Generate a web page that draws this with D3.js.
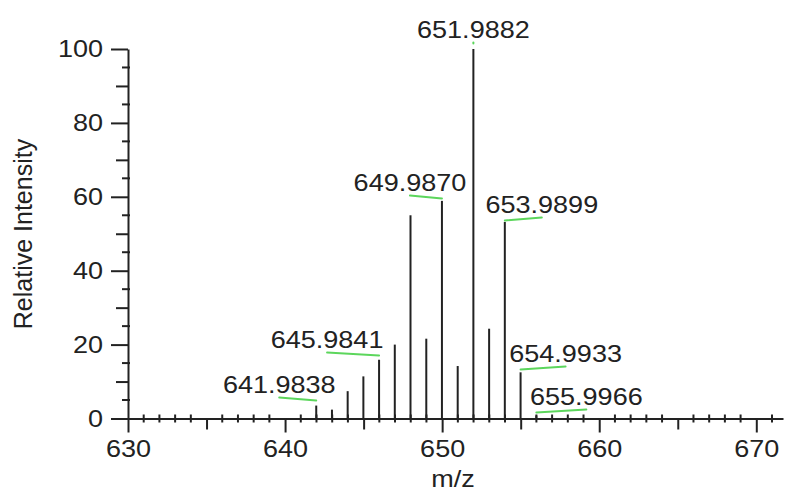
<!DOCTYPE html>
<html lang="en">
<head>
<meta charset="UTF-8">
<title>Mass spectrum</title>
<script src="https://cdn.jsdelivr.net/npm/d3@7"></script>
<style>
  body { margin: 0; background: #fff; }
  text { font-family: "Liberation Sans", Arial, Helvetica, sans-serif; fill: #222; }
</style>
</head>
<body>
<svg width="785" height="496"></svg>
<script>
// peak m/z values and relative intensities
var mzValues = [641.9838, 642.985, 643.985, 644.985, 645.9841, 646.985, 647.985, 648.99, 649.9870, 650.99, 651.9882, 652.99, 653.9899, 654.9933, 655.9966];
var intensities = [3.5, 2.4, 7.4, 11.4, 15.9, 20.0, 55.0, 21.6, 58.9, 14.2, 100, 24.3, 53.2, 12.5, 0.8];

// annotated peaks
var labelMz = [641.9838, 645.9841, 649.9870, 651.9882, 653.9899, 654.9933, 655.9966];
var labelText = ["641.9838", "645.9841", "649.9870", "651.9882", "653.9899", "654.9933", "655.9966"];

var xTicks = [630, 640, 650, 660, 670];
var yTicks = [0, 20, 40, 60, 80, 100];

// label layout: horizontal shift of label centre, baseline y
var labelDx = [-37, -52, -32, 0, 37, 45, 50];
var labelBase = [393, 348, 191, 38, 213, 362, 405];

var sx = 1.15; // fonts in the original look a bit wide
var fs = 23.5;

var svg = d3.select('svg');
var x = d3.scaleLinear().domain([630, 671.7]).range([128, 783]);
var y = d3.scaleLinear().domain([0, 100]).range([418.5, 49]);

function widen(sel) {
  sel.selectAll('text')
    .style('font-size', fs + 'px')
    .attr('fill', '#222')
    .attr('x', function() { return (+this.getAttribute('x') || 0) / sx; })
    .attr('transform', 'scale(' + sx + ',1)');
}

// x axis: minor ticks every 1
svg.append('g').selectAll('line')
  .data(d3.range(631, 672, 1).filter(function(d){ return d % 5 != 0; }))
  .enter().append('line')
  .attr('x1', function(d){ return x(d); }).attr('x2', function(d){ return x(d); })
  .attr('y1', y(0) - 4).attr('y2', y(0) + 4)
  .attr('stroke', '#222').attr('stroke-width', 2);

// x axis: medium ticks at 5
svg.append('g').attr('transform', 'translate(0,' + y(0) + ')')
  .call(d3.axisBottom(x).tickValues([635, 645, 655, 665]).tickSize(11).tickFormat(''))
  .call(function(g){ g.select('.domain').remove(); g.selectAll('line').attr('stroke', '#222').attr('stroke-width', 2); });

// x axis: major
var gx = svg.append('g').attr('transform', 'translate(0,' + y(0) + ')')
  .call(d3.axisBottom(x).tickValues(xTicks).tickSize(14).tickSizeOuter(0).tickPadding(8))
  .call(function(g){
    g.select('.domain').attr('stroke', '#222').attr('stroke-width', 2);
    g.selectAll('line').attr('stroke', '#222').attr('stroke-width', 2);
  });
widen(gx);

// y axis: minor ticks at 5
svg.append('g').selectAll('line')
  .data(d3.range(5, 100, 10))
  .enter().append('line')
  .attr('x1', x(630) - 6).attr('x2', x(630) + 2)
  .attr('y1', function(d){ return y(d); }).attr('y2', function(d){ return y(d); })
  .attr('stroke', '#222').attr('stroke-width', 2);

// y axis: medium ticks at odd tens
svg.append('g').attr('transform', 'translate(' + x(630) + ',0)')
  .call(d3.axisLeft(y).tickValues([10, 30, 50, 70, 90]).tickSize(12).tickFormat(''))
  .call(function(g){ g.select('.domain').remove(); g.selectAll('line').attr('stroke', '#222').attr('stroke-width', 2); });

// y axis: major
var gy = svg.append('g').attr('transform', 'translate(' + x(630) + ',0)')
  .call(d3.axisLeft(y).tickValues(yTicks).tickSize(17).tickSizeOuter(0).tickPadding(8))
  .call(function(g){
    g.select('.domain').attr('stroke', '#222').attr('stroke-width', 2);
    g.selectAll('line').attr('stroke', '#222').attr('stroke-width', 2);
  });
widen(gy);

// peaks
svg.append('g').selectAll('line')
  .data(mzValues)
  .enter().append('line')
  .attr('x1', function(d){ return x(d); }).attr('x2', function(d){ return x(d); })
  .attr('y1', y(0))
  .attr('y2', function(d, i){ return y(intensities[i]); })
  .attr('stroke', '#222').attr('stroke-width', 2);

// label leader lines (green)
svg.append('g').selectAll('line')
  .data(labelMz)
  .enter().append('line')
  .attr('x1', function(d){ return x(d); })
  .attr('y1', function(d, i){ return labelBase[i] + (labelDx[i] == 0 ? 5.5 : 7.5); })
  .attr('x2', function(d, i){ return x(d) + labelDx[i]; })
  .attr('y2', function(d, i){ return labelBase[i] + 4.5; })
  .attr('stroke', '#5cd65c').attr('stroke-width', 2).attr('stroke-linecap', 'round');

// label text
svg.append('g').selectAll('text')
  .data(labelText)
  .enter().append('text')
  .attr('text-anchor', 'middle')
  .attr('transform', function(d, i){
    return 'translate(' + (x(labelMz[i]) + labelDx[i]) + ',' + labelBase[i] + ') scale(' + sx + ',1)';
  })
  .style('font-size', fs + 'px')
  .text(function(d){ return d; });

// axis titles
svg.append('text')
  .attr('text-anchor', 'middle')
  .attr('transform', 'translate(453,487) scale(' + sx + ',1)')
  .style('font-size', fs + 'px')
  .text('m/z');

svg.append('text')
  .attr('text-anchor', 'middle')
  .attr('transform', 'translate(32,234) rotate(-90)')
  .style('font-size', '25px')
  .text('Relative Intensity');
</script>
</body>
</html>
